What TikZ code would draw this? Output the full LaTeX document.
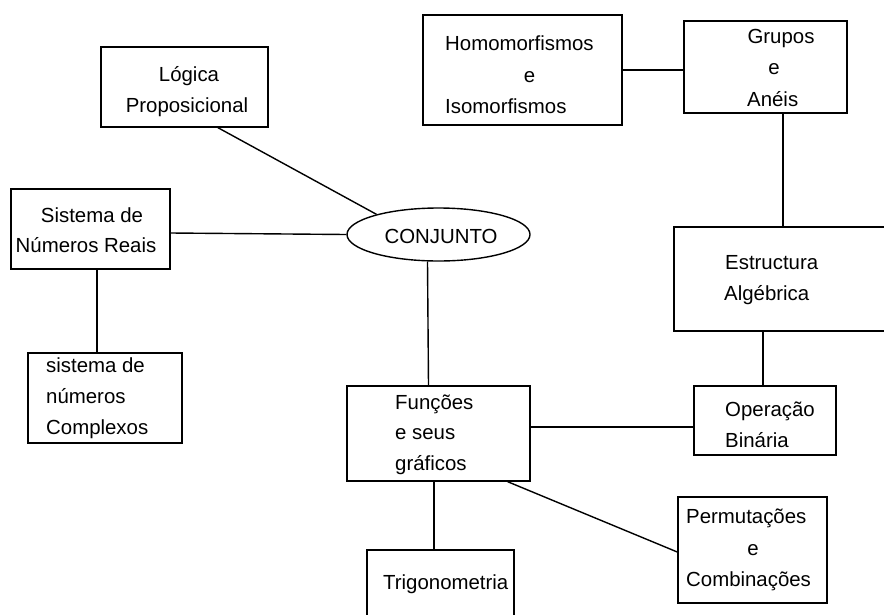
\documentclass[tikz,border=0pt]{standalone}
\usepackage{fontspec}
\setmainfont{Liberation Sans}
\usetikzlibrary{shapes.geometric}
\begin{document}
\begin{tikzpicture}[x=1pt,y=-1pt,
  box/.style={draw,line width=1.4pt,rectangle,inner sep=0pt},
  oval/.style={draw,line width=1.4pt,ellipse,inner sep=0pt},
  txt/.style={anchor=base west,inner sep=0pt,font=\fontsize{20.4}{24}\selectfont},
  ctxt/.style={anchor=base,inner sep=0pt,font=\fontsize{20.4}{24}\selectfont},
  link/.style={line width=1.4pt}]
\useasboundingbox (0,0) rectangle (884,614);
% boxes
\node[box,minimum width=167pt,minimum height=80pt] (logica) at (184.5,87) {};
\node[box,minimum width=199pt,minimum height=110pt] (homo) at (522.5,70) {};
\node[box,minimum width=163pt,minimum height=92pt] (grupos) at (765.5,67) {};
\node[box,minimum width=159pt,minimum height=80pt] (reais) at (90.5,229) {};
\node[box,minimum width=154pt,minimum height=90pt] (complexos) at (105,398) {};
\node[oval,minimum width=183pt,minimum height=53pt] (conj) at (438.5,234.5) {};
\node[box,minimum width=183pt,minimum height=95pt] (funcoes) at (438.5,433.5) {};
\node[box,minimum width=236pt,minimum height=104pt] (estr) at (792,279) {};
\node[box,minimum width=142pt,minimum height=69pt] (operacao) at (765,420.5) {};
\node[box,minimum width=147pt,minimum height=90pt] (trig) at (440.5,595) {};
\node[box,minimum width=149pt,minimum height=106pt] (perm) at (752.5,550) {};
% texts
\node[ctxt] (t1) at (189,81) {Lógica};
\node[ctxt] (t2) at (187,112) {Proposicional};
\node[txt] (t3) at (445,50) {Homomorfismos};
\node[ctxt] (t4) at (529.5,82) {e};
\node[txt] (t5) at (445,113) {Isomorfismos};
\node[ctxt] (t6) at (781,43) {Grupos};
\node[ctxt] (t7) at (774,74) {e};
\node[txt] (t8) at (747,106) {Anéis};
\node[ctxt] (t9) at (92,222) {Sistema de};
\node[ctxt] (t10) at (86,252) {Números Reais};
\node[txt] (t11) at (46,372) {sistema de};
\node[txt] (t12) at (46,403) {números};
\node[txt] (t13) at (46,434) {Complexos};
\node[ctxt] (t14) at (441,243) {CONJUNTO};
\node[txt] (t15) at (725,269) {Estructura};
\node[txt] (t16) at (724,300) {Algébrica};
\node[txt] (t17) at (395,409) {Funções};
\node[txt] (t18) at (395,439) {e seus};
\node[txt] (t19) at (395,470) {gráficos};
\node[txt] (t20) at (725,416) {Operação};
\node[txt] (t21) at (725,447) {Binária};
\node[txt] (t22) at (383,589) {Trigonometria};
\node[txt] (t23) at (686,523) {Permutações};
\node[ctxt] (t24) at (753,555) {e};
\node[txt] (t25) at (686,586) {Combinações};
% connectors
\draw[link] ([xshift=33.5pt]logica.south) -- (conj.162);
\draw[link] ([yshift=-4pt]reais.east) -- (conj.west);
\draw[link] ([xshift=6.5pt]reais.south) -- ([xshift=6.5pt]reais.south |- complexos.north);
\draw[link] ([xshift=-11pt]conj.south) -- ([xshift=-10pt]funcoes.north);
\draw[link] ([yshift=6.5pt]funcoes.east) -- ([yshift=6.5pt]funcoes.east -| operacao.west);
\draw[link] ([xshift=-4.5pt]funcoes.south) -- ([xshift=-4.5pt]funcoes.south |- trig.north);
\draw[link] ([xshift=-23pt]funcoes.south east) -- ([yshift=-2pt]perm.west);
\draw[link] ([xshift=-2pt]operacao.north) -- ([xshift=-2pt]operacao.north |- estr.south);
\draw[link] ([xshift=17.5pt]grupos.south) -- ([xshift=17.5pt]grupos.south |- estr.north);
\draw[link] (homo.east) -- (homo.east -| grupos.west);
\end{tikzpicture}
\end{document}
